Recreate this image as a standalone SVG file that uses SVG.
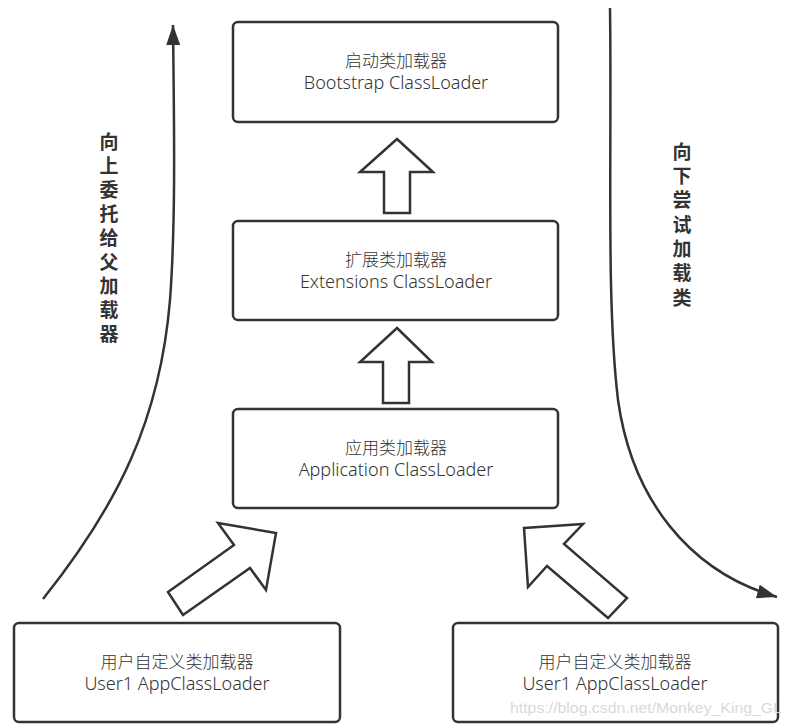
<svg xmlns="http://www.w3.org/2000/svg" width="792" height="728" viewBox="0 0 792 728">
<defs>
<style>
.box{fill:#fff;stroke:#333;stroke-width:2.5}
.blk{fill:#fff;stroke:#333;stroke-width:2.5;stroke-linejoin:miter}
.cn{font-family:"Noto Sans CJK SC","Noto Sans",sans-serif;font-size:17px;font-weight:300;fill:#333;text-anchor:middle}
.en{font-family:"Noto Sans","Noto Sans CJK SC",sans-serif;font-size:18px;font-weight:300;fill:#333;text-anchor:middle}
.vt{font-family:"Noto Sans CJK SC",sans-serif;font-size:19px;font-weight:bold;fill:#333;writing-mode:vertical-rl}
.curve{fill:none;stroke:#333;stroke-width:2.5}
.wm{font-family:"Liberation Sans",Arial,sans-serif;font-size:15px;fill:#d9d9d9}
</style>
<marker id="ah" markerUnits="userSpaceOnUse" markerWidth="22" markerHeight="14" refX="20" refY="7" orient="auto">
<path d="M0,0 L20,7 L0,14 z" fill="#333"/>
</marker>
</defs>
<rect width="792" height="728" fill="#fff"/>

<g id="bootstrap">
<rect class="box" x="233" y="22" width="325" height="100" rx="5"/>
<text class="cn" x="396" y="67">启动类加载器</text>
<text class="en" x="396" y="89">Bootstrap ClassLoader</text>
</g>
<g id="extensions">
<rect class="box" x="233" y="221" width="325" height="99" rx="5"/>
<text class="cn" x="396" y="266">扩展类加载器</text>
<text class="en" x="396" y="288">Extensions ClassLoader</text>
</g>
<g id="application">
<rect class="box" x="233" y="409" width="325" height="99" rx="5"/>
<text class="cn" x="396" y="454">应用类加载器</text>
<text class="en" x="396" y="476">Application ClassLoader</text>
</g>
<g id="user1-left">
<rect class="box" x="14" y="623" width="326" height="99" rx="5"/>
<text class="cn" x="177" y="668">用户自定义类加载器</text>
<text class="en" x="177" y="690">User1 AppClassLoader</text>
</g>
<g id="user1-right">
<rect class="box" x="453" y="623" width="325" height="99" rx="5"/>
<text class="cn" x="615" y="668">用户自定义类加载器</text>
<text class="en" x="615" y="690">User1 AppClassLoader</text>
</g>

<g id="connectors">
<polygon class="blk" points="397,139 433,172 410,172 410,213 384,213 384,172 360,172"/>
<polygon class="blk" points="397,328 432,362 409,362 409,403 383,403 383,362 360,362"/>
<polygon class="blk" points="218,523 276,533 266,590 250,568 183,615 168,592 234,545"/>
<polygon class="blk" points="524,528 583,524 564,544 627,598 608,618 547,566 528,587"/>
<path class="curve" d="M43,599 C118,505 160,420 170,300 C176,220 174,120 173,25" marker-end="url(#ah)"/>
<path class="curve" d="M610,8 C612,150 606,300 618,400 C632,500 690,572 777,597" marker-end="url(#ah)"/>
</g>

<g id="label-left">
<text class="vt" x="109" y="132" letter-spacing="5">向上委托给父加载器</text>
</g>
<g id="label-right">
<text class="vt" x="682" y="142" letter-spacing="5.3">向下尝试加载类</text>
</g>

<text class="wm" x="510" y="713" textLength="272" lengthAdjust="spacingAndGlyphs">https://blog.csdn.net/Monkey_King_GL</text>
</svg>
